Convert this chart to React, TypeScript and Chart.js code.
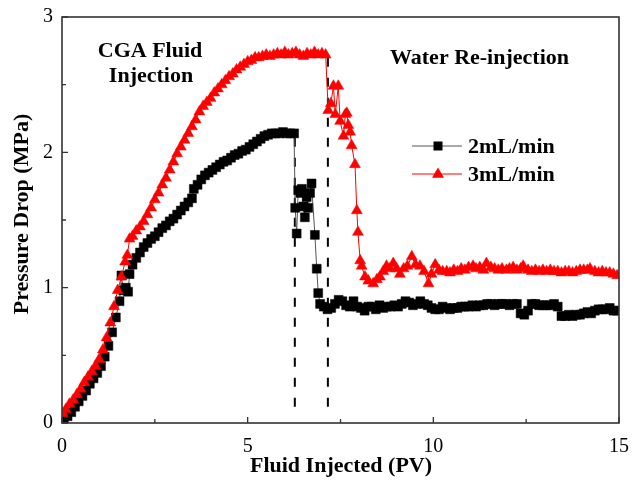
import React, { useEffect, useRef } from "react";
import { Chart, registerables } from "chart.js";

Chart.register(...registerables);

// ---- Data ----
const blackX = [
  0.05, 0.15, 0.25, 0.35, 0.45, 0.55, 0.65, 0.75, 0.85, 0.95,
  1.05, 1.15, 1.25, 1.35, 1.45, 1.55, 1.60, 1.65, 1.72, 1.78,
  1.82, 1.90, 2.00, 2.10, 2.20, 2.30, 2.40, 2.50, 2.60, 2.70,
  2.80, 2.90, 3.00, 3.10, 3.20, 3.30, 3.40, 3.50, 3.55, 3.65,
  3.75, 3.85, 3.95, 4.05, 4.15, 4.25, 4.35, 4.45, 4.55, 4.65,
  4.75, 4.85, 4.95, 5.05, 5.15, 5.25, 5.35, 5.45, 5.55, 5.65,
  5.75, 5.85, 5.95, 6.05, 6.15, 6.25,
  6.28, 6.32, 6.36, 6.42, 6.46, 6.50, 6.54, 6.59, 6.63, 6.68,
  6.72, 6.81, 6.86, 6.90, 6.95,
  7.05, 7.15, 7.25, 7.35, 7.45, 7.55, 7.65, 7.75, 7.85, 7.95,
  8.05, 8.15, 8.25, 8.35, 8.45, 8.55, 8.65, 8.75, 8.85, 8.95,
  9.05, 9.15, 9.25, 9.35, 9.45, 9.55, 9.65, 9.75, 9.85, 9.95,
  10.05, 10.15, 10.25, 10.35, 10.45, 10.55, 10.65, 10.75, 10.85, 10.95,
  11.05, 11.15, 11.25, 11.35, 11.45, 11.55, 11.65, 11.75, 11.85, 11.95,
  12.05, 12.15, 12.25, 12.35, 12.45, 12.55, 12.65, 12.75, 12.85, 12.95,
  13.05, 13.15, 13.25, 13.35, 13.45, 13.55, 13.65, 13.75, 13.85, 13.95,
  14.05, 14.15, 14.25, 14.35, 14.45, 14.55, 14.65, 14.75, 14.85, 14.95,
];
const blackY = [
  0.03, 0.05, 0.08, 0.12, 0.16, 0.20, 0.24, 0.29, 0.33, 0.37,
  0.42, 0.49, 0.57, 0.67, 0.78, 0.90, 1.09, 0.98, 1.00, 0.97,
  1.10, 1.17, 1.22, 1.26, 1.30, 1.33, 1.36, 1.38, 1.41, 1.44,
  1.46, 1.49, 1.51, 1.54, 1.57, 1.60, 1.63, 1.66, 1.73, 1.76,
  1.80, 1.83, 1.85, 1.87, 1.89, 1.91, 1.93, 1.94, 1.96, 1.98,
  1.99, 2.01, 2.02, 2.04, 2.06, 2.08, 2.10, 2.12, 2.13, 2.14,
  2.14, 2.14, 2.15, 2.14, 2.14, 2.14,
  1.59, 1.40, 1.72, 1.70, 1.73, 1.60, 1.52, 1.67, 1.59, 1.70,
  1.77, 1.39, 1.14, 0.96, 0.88,
  0.86, 0.84, 0.85, 0.88, 0.91, 0.90, 0.87, 0.86, 0.90, 0.86,
  0.85, 0.83, 0.86, 0.86, 0.84, 0.87, 0.85, 0.86, 0.86, 0.87,
  0.86, 0.88, 0.90, 0.89, 0.87, 0.88, 0.90, 0.88, 0.87, 0.85,
  0.84, 0.84, 0.86, 0.85, 0.84, 0.85, 0.85, 0.86, 0.86, 0.86,
  0.87, 0.86, 0.87, 0.87, 0.88, 0.88, 0.87, 0.88, 0.88, 0.88,
  0.87, 0.88, 0.88, 0.81, 0.80, 0.83, 0.88, 0.88, 0.87, 0.87,
  0.87, 0.87, 0.88, 0.86, 0.79, 0.79, 0.80, 0.79, 0.80, 0.80,
  0.81, 0.82, 0.81, 0.83, 0.84, 0.84, 0.84, 0.85, 0.83, 0.83,
];

const redX = [
  0.02, 0.10, 0.20, 0.30, 0.40, 0.50, 0.60, 0.70, 0.80, 0.90,
  1.00, 1.10, 1.20, 1.30, 1.40, 1.50, 1.60, 1.70, 1.76, 1.82,
  1.90, 2.00, 2.10, 2.20, 2.30, 2.40, 2.50, 2.60, 2.70, 2.80,
  2.90, 3.00, 3.10, 3.20, 3.30, 3.40, 3.50, 3.60, 3.70, 3.80,
  3.90, 4.00, 4.10, 4.20, 4.30, 4.40, 4.50, 4.60, 4.70, 4.80,
  4.90, 5.00, 5.10, 5.20, 5.30, 5.40, 5.50, 5.60, 5.70, 5.80,
  5.90, 6.00, 6.10, 6.20, 6.30, 6.40, 6.50, 6.60, 6.70, 6.80,
  6.90, 7.00, 7.10,
  7.17, 7.24, 7.31, 7.36, 7.44, 7.49, 7.58, 7.63, 7.67, 7.71,
  7.76, 7.80, 7.89, 7.94, 7.97, 8.03, 8.07, 8.16, 8.25, 8.38,
  8.48, 8.56, 8.65, 8.74, 8.83, 8.92, 9.01, 9.10, 9.20, 9.30,
  9.42, 9.52, 9.64, 9.75, 9.87, 9.95, 10.05, 10.15, 10.25, 10.36,
  10.45, 10.55, 10.65, 10.75, 10.85, 10.95, 11.07, 11.15, 11.25, 11.35,
  11.43, 11.55, 11.65, 11.75, 11.85, 11.97, 12.05, 12.15, 12.25, 12.35,
  12.42, 12.55, 12.65, 12.75, 12.85, 12.95, 13.05, 13.15, 13.25, 13.35,
  13.45, 13.55, 13.65, 13.75, 13.85, 13.95, 14.05, 14.15, 14.22, 14.35,
  14.45, 14.55, 14.65, 14.75, 14.85, 14.95,
];
const redY = [
  0.07, 0.10, 0.14, 0.17, 0.21, 0.25, 0.30, 0.34, 0.38, 0.42,
  0.47, 0.54, 0.63, 0.74, 0.86, 0.98, 1.08, 1.19, 1.24, 1.36,
  1.38, 1.42, 1.45, 1.49, 1.54, 1.59, 1.65, 1.70, 1.76, 1.81,
  1.87, 1.93, 1.99, 2.04, 2.09, 2.14, 2.19, 2.24, 2.30, 2.34,
  2.37, 2.40, 2.44, 2.47, 2.50, 2.53, 2.56, 2.58, 2.61, 2.63,
  2.65, 2.67, 2.68, 2.70, 2.70, 2.71, 2.72, 2.71, 2.72, 2.73,
  2.72, 2.74, 2.72, 2.73, 2.74, 2.72, 2.71, 2.73, 2.72, 2.74,
  2.72, 2.73, 2.72,
  2.31, 2.36, 2.49, 2.28, 2.49, 2.23, 2.12, 2.28, 2.29, 2.20,
  2.15, 2.05, 1.91, 1.57, 1.41, 1.20, 1.16, 1.08, 1.05, 1.03,
  1.06, 1.08, 1.12, 1.16, 1.14, 1.18, 1.14, 1.10, 1.14, 1.16,
  1.23, 1.17, 1.16, 1.12, 1.03, 1.10, 1.17, 1.13, 1.12, 1.12,
  1.11, 1.13, 1.12, 1.14, 1.13, 1.15, 1.16, 1.14, 1.15, 1.13,
  1.18, 1.15, 1.14, 1.13, 1.14, 1.13, 1.14, 1.15, 1.13, 1.14,
  1.16, 1.13, 1.12, 1.13, 1.12, 1.13, 1.12, 1.13, 1.12, 1.12,
  1.11, 1.12, 1.12, 1.11, 1.12, 1.13, 1.13, 1.13, 1.14, 1.12,
  1.11, 1.12, 1.11, 1.11, 1.10, 1.09,
];

// Phase boundaries (dashed lines): x, bottom y, top y
const boundaryX = [6.27, 7.16];
const boundaryBottom = [0.12, 0.12];
const boundaryTop = [2.14, 2.72];

const seriesLabels = ["2mL/min", "3mL/min"];
const xTickValues = [0, 5, 10, 15];
const yTickValues = [0, 1, 2, 3];
const xMinorTicks = [2.5, 7.5, 12.5];
const yMinorTicks = [0.5, 1.5, 2.5];
const xTitle = "Fluid Injected (PV)";
const yTitle = "Pressure Drop (MPa)";
const phaseLabels = ["CGA Fluid", "Injection", "Water Re-injection"];

const SERIF = '"Liberation Serif", "Times New Roman", serif';

const zip = (xs: number[], ys: number[]) => xs.map((x, i) => ({ x, y: ys[i] }));

const decorPlugin = {
  id: "decor",
  afterDraw(chart: any) {
    const { ctx, chartArea: a, scales } = chart;
    const xs = scales.x;
    const ys = scales.y;
    ctx.save();
    // Frame
    ctx.strokeStyle = "#333";
    ctx.lineWidth = 1.6;
    ctx.strokeRect(a.left, a.top, a.right - a.left, a.bottom - a.top);
    // Ticks (inward)
    ctx.lineWidth = 1.3;
    ctx.beginPath();
    xTickValues.forEach((v) => {
      const px = xs.getPixelForValue(v);
      ctx.moveTo(px, a.bottom);
      ctx.lineTo(px, a.bottom - 6);
    });
    xMinorTicks.forEach((v) => {
      const px = xs.getPixelForValue(v);
      ctx.moveTo(px, a.bottom);
      ctx.lineTo(px, a.bottom - 4);
    });
    yTickValues.forEach((v) => {
      const py = ys.getPixelForValue(v);
      ctx.moveTo(a.left, py);
      ctx.lineTo(a.left + 6, py);
    });
    yMinorTicks.forEach((v) => {
      const py = ys.getPixelForValue(v);
      ctx.moveTo(a.left, py);
      ctx.lineTo(a.left + 4, py);
    });
    ctx.stroke();

    // Titles
    ctx.fillStyle = "#000";
    ctx.font = `bold 22px ${SERIF}`;
    ctx.textBaseline = "alphabetic";
    ctx.textAlign = "center";
    ctx.fillText(xTitle, 341, 472);
    ctx.save();
    ctx.translate(28, 214);
    ctx.rotate(-Math.PI / 2);
    ctx.fillText(yTitle, 0, 0);
    ctx.restore();

    // Phase annotations
    ctx.textAlign = "center";
    ctx.fillText(phaseLabels[0], 150, 57);
    ctx.fillText(phaseLabels[1], 151, 82);
    ctx.textAlign = "left";
    ctx.fillText(phaseLabels[2], 390, 64);

    // Legend
    const legendRows = [
      { y: 146, line: "#555", fill: "#000", style: "rect" },
      { y: 174, line: "#ff0000", fill: "#ff0000", style: "triangle" },
    ];
    legendRows.forEach((r, i) => {
      ctx.strokeStyle = r.line;
      ctx.lineWidth = 1;
      ctx.beginPath();
      ctx.moveTo(412, r.y);
      ctx.lineTo(462, r.y);
      ctx.stroke();
      ctx.fillStyle = r.fill;
      ctx.beginPath();
      if (r.style === "rect") {
        ctx.rect(438 - 4.5, r.y - 4.5, 9, 9);
      } else {
        ctx.moveTo(438, r.y - 6.5);
        ctx.lineTo(444, r.y + 3.8);
        ctx.lineTo(432, r.y + 3.8);
        ctx.closePath();
      }
      ctx.fill();
      ctx.fillStyle = "#000";
      ctx.textAlign = "left";
      ctx.textBaseline = "middle";
      ctx.fillText(seriesLabels[i], 468, r.y + 1);
    });
    ctx.restore();
  },
};

export default function App() {
  const ref = useRef<HTMLCanvasElement>(null);
  useEffect(() => {
    if (!ref.current) return;
    const chart = new Chart(ref.current, {
      type: "line",
      data: {
        datasets: [
          {
            label: seriesLabels[1],
            data: zip(redX, redY),
            borderColor: "#ff0000",
            backgroundColor: "#ff0000",
            borderWidth: 1,
            pointStyle: "triangle",
            pointRadius: 6.3,
            pointBorderWidth: 0.5,
            pointBorderColor: "#ff0000",
            pointBackgroundColor: "#ff0000",
            tension: 0,
            order: 1,
          },
          {
            label: seriesLabels[0],
            data: zip(blackX, blackY),
            borderColor: "#555",
            backgroundColor: "#000",
            borderWidth: 1,
            pointStyle: "rect",
            pointRadius: 6.3,
            pointBorderWidth: 0.5,
            pointBorderColor: "#000",
            pointBackgroundColor: "#000",
            tension: 0,
            order: 2,
          },
          ...boundaryX.map((bx, i) => ({
            label: "boundary" + i,
            data: [
              { x: bx, y: boundaryBottom[i] },
              { x: bx, y: boundaryTop[i] },
            ],
            borderColor: "#000",
            borderWidth: 2,
            borderDash: [9, 11],
            pointRadius: 0,
            order: 5,
          })),
        ],
      },
      options: {
        responsive: false,
        animation: false,
        layout: { padding: { top: 17, right: 13, left: 0, bottom: 0 } },
        plugins: {
          legend: { display: false },
          tooltip: { enabled: false },
        },
        scales: {
          x: {
            type: "linear",
            min: 0,
            max: 15,
            grid: { display: false, drawTicks: false },
            border: { display: false },
            ticks: {
              stepSize: 5,
              padding: 12,
              color: "#000",
              font: { family: SERIF, size: 20 },
              maxRotation: 0,
            },
            afterFit: (s: any) => {
              s.height = 59;
              s.paddingLeft = 0;
              s.paddingRight = 0;
              s.paddingTop = 0;
              s.paddingBottom = 0;
            },
          },
          y: {
            type: "linear",
            min: 0,
            max: 3,
            grid: { display: false, drawTicks: false },
            border: { display: false },
            ticks: {
              stepSize: 1,
              padding: 9,
              color: "#000",
              font: { family: SERIF, size: 20 },
            },
            afterFit: (s: any) => {
              s.width = 62;
              s.paddingLeft = 0;
              s.paddingRight = 0;
              s.paddingTop = 0;
              s.paddingBottom = 0;
            },
          },
        },
      },
      plugins: [decorPlugin],
    });
    return () => chart.destroy();
  }, []);
  return (
    <div style={{ position: "absolute", left: 0, top: 0, width: 632, height: 482, background: "#fff" }}>
      <canvas ref={ref} width={632} height={482} />
    </div>
  );
}
